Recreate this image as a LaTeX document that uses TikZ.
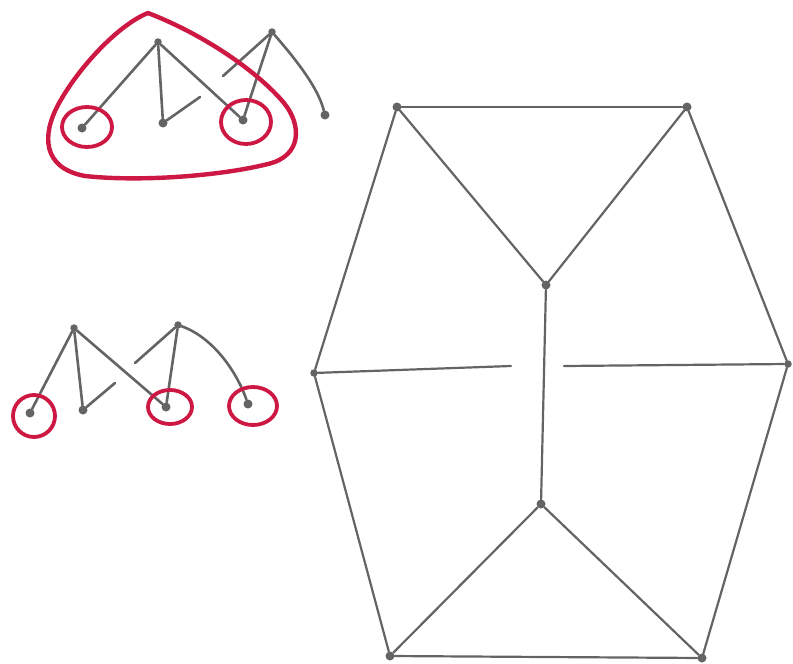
\documentclass[tikz,border=0pt]{standalone}
\definecolor{pen}{RGB}{100,100,100}
\definecolor{ink}{RGB}{204,24,66}
\begin{document}
\begin{tikzpicture}[x=1pt,y=-1pt,
  dot/.style={circle,fill=pen,draw=none,inner sep=0pt,minimum size=9pt},
  sdot/.style={circle,fill=pen,draw=none,inner sep=0pt,minimum size=7.5pt},
  edge/.style={draw=pen,line width=2.6pt,line cap=round},
  gedge/.style={draw=pen,line width=2.2pt,line cap=round},
  blob/.style={draw=ink,line width=4.4pt,line join=round},
  ring/.style={draw=ink,line width=3.8pt}]
\useasboundingbox (0,0) rectangle (793,664);
% ---------- top tree pair ----------
\node[sdot] (A) at (158,42) {};
\node[dot] (a1) at (82,128) {};
\node[dot] (a2) at (163,123) {};
\node[dot] (a3) at (243,120) {};
\node[sdot] (B) at (272,32) {};
\node[dot] (b1) at (325,115) {};
\coordinate (a2s) at (200,97);
\coordinate (Bs) at (223,76);
\draw[edge] (A) -- (a1);
\draw[edge] (A) -- (a2);
\draw[edge] (A) -- (a3);
\draw[edge] (a2) -- (a2s);
\draw[edge] (B) -- (a3);
\draw[edge] (B) -- (Bs);
\draw[edge] (B) .. controls (298,62) and (318,88) .. (b1);
% red outline
\draw[blob] (148,13) .. controls (118,25) and (78,68) .. (58,105)
  .. controls (42,135) and (42,168) .. (85,176)
  .. controls (140,182) and (220,176) .. (268,164)
  .. controls (302,156) and (302,125) .. (284,103)
  .. controls (258,72) and (205,35) .. cycle;
\draw[ring] (87,127) ellipse [x radius=25, y radius=20];
\draw[ring] (246,122) ellipse [x radius=25, y radius=22];
% ---------- middle tree pair ----------
\node[sdot] (C) at (74,328) {};
\node[dot] (c1) at (30,413) {};
\node[dot] (c2) at (83,410) {};
\node[dot] (c3) at (166,407) {};
\node[sdot] (D) at (178,325) {};
\node[dot] (d1) at (248,404) {};
\coordinate (c2s) at (115,383);
\coordinate (Ds) at (135,363);
\draw[edge] (C) -- (c1);
\draw[edge] (C) -- (c2);
\draw[edge] (C) -- (c3);
\draw[edge] (c2) -- (c2s);
\draw[edge] (D) -- (c3);
\draw[edge] (D) -- (Ds);
\draw[edge] (D) .. controls (212,337) and (236,370) .. (d1);
\draw[ring] (34,416) ellipse [x radius=21, y radius=21];
\draw[ring] (170,407) ellipse [x radius=22, y radius=17];
\draw[ring] (253,406) ellipse [x radius=24, y radius=19];
% ---------- big graph ----------
\node[dot] (TL) at (397,107) {};
\node[dot] (TR) at (687,107) {};
\node[dot] (C1) at (546,285) {};
\node[sdot] (L) at (314,373) {};
\node[sdot] (R) at (788,364) {};
\node[dot] (C2) at (541,504) {};
\node[dot] (BL) at (390,656) {};
\node[dot] (BR) at (702,658) {};
\coordinate (Ls) at (511,366);
\coordinate (Rs) at (564,366);
\draw[gedge] (TL) -- (TR);
\draw[gedge] (TL) -- (C1);
\draw[gedge] (TR) -- (C1);
\draw[gedge] (TL) -- (L);
\draw[gedge] (TR) -- (R);
\draw[gedge] (C1) -- (C2);
\draw[gedge] (L) -- (Ls);
\draw[gedge] (R) -- (Rs);
\draw[gedge] (L) -- (BL);
\draw[gedge] (R) -- (BR);
\draw[gedge] (C2) -- (BL);
\draw[gedge] (C2) -- (BR);
\draw[gedge] (BL) -- (BR);
\end{tikzpicture}
\end{document}
